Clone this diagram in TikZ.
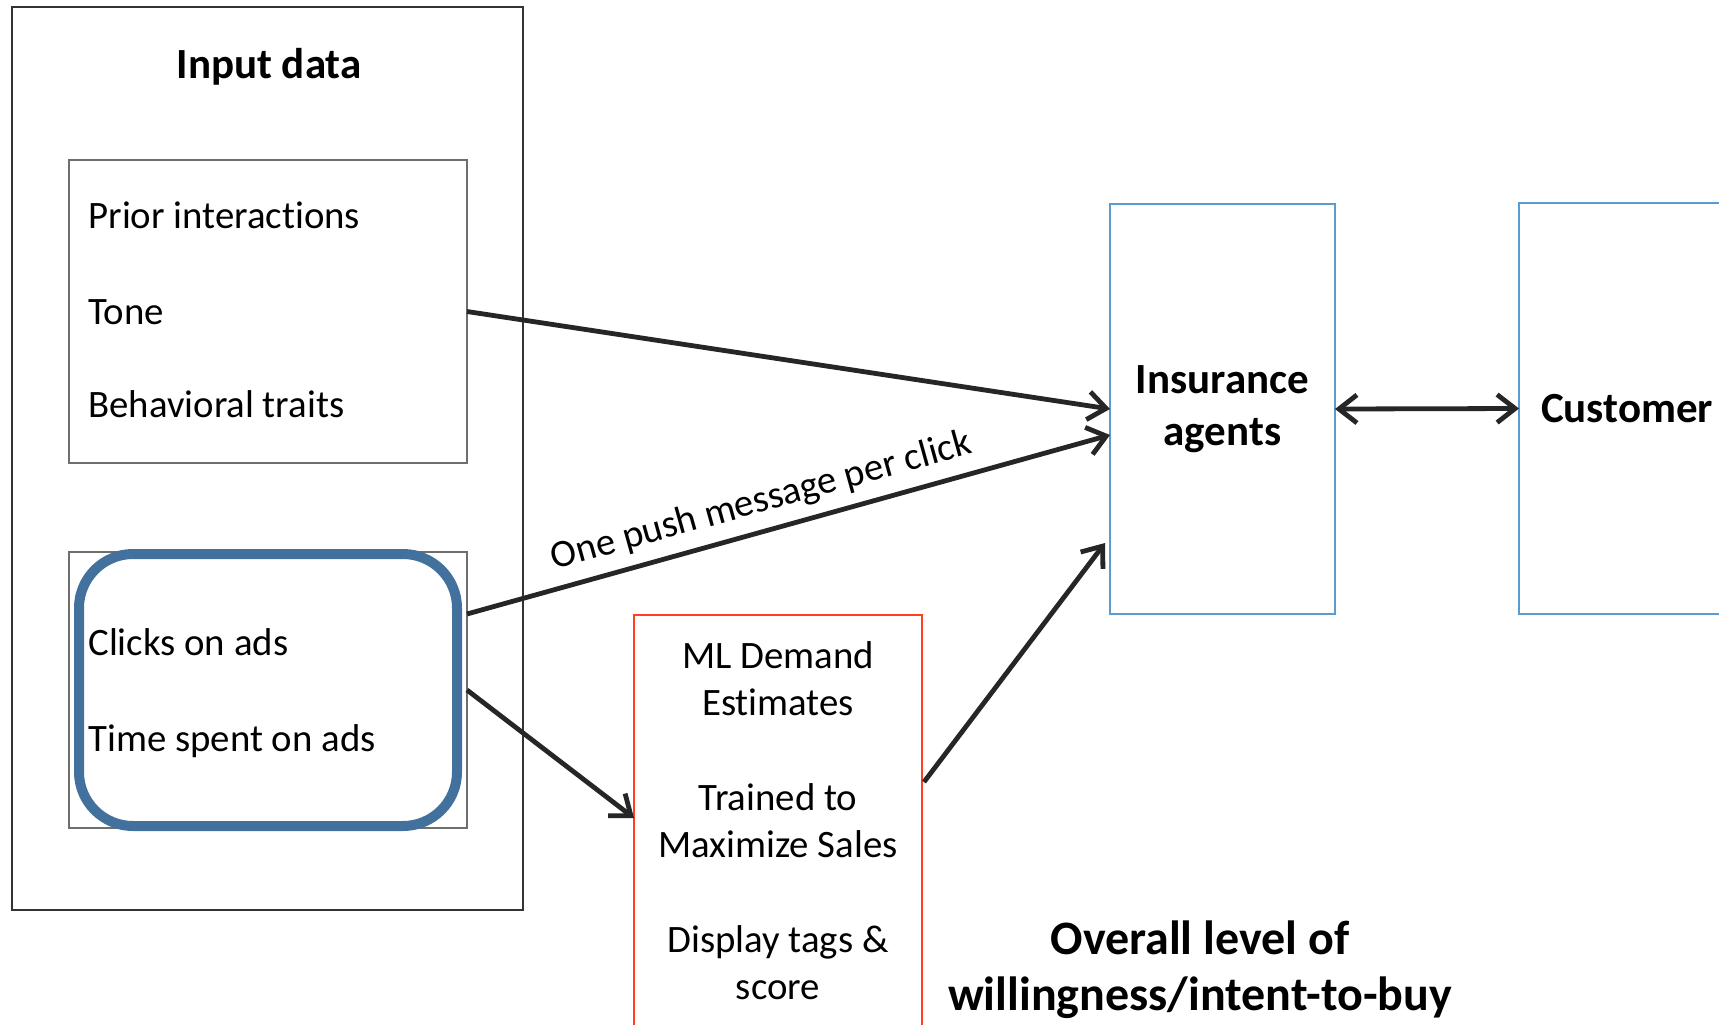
\documentclass[tikz,border=0pt]{standalone}
\usepackage{fontspec}
\setmainfont{Carlito}[RawFeature={-liga;-clig;-calt;-dlig}]
\usetikzlibrary{arrows.meta,calc}
\definecolor{outerc}{HTML}{333333}
\definecolor{innerc}{HTML}{6E6E6E}
\definecolor{lblue}{HTML}{5B9BD5}
\definecolor{steel}{HTML}{41719C}
\definecolor{redc}{HTML}{FF4122}
\definecolor{arrowc}{HTML}{262626}
\begin{document}
\begin{tikzpicture}[x=0.5pt,y=-0.5pt,
  boxst/.style={draw, inner sep=0pt, outer sep=0pt},
  txt/.style={font=\fontsize{19.4}{23.5}\selectfont, inner sep=0pt},
  ctxt/.style={txt, align=center},
  btxt/.style={font=\fontsize{21.5}{26}\selectfont\bfseries, inner sep=0pt, align=center},
  arr/.style={draw=arrowc, line width=2.4pt, -{Straight Barb[length=9pt,width=14pt]}},
  darr/.style={draw=arrowc, line width=2.4pt, {Straight Barb[length=9pt,width=14pt]}-{Straight Barb[length=9pt,width=14pt]}}]
\clip (0,0) rectangle (1719,1024);
\fill[white] (0,0) rectangle (1719,1024);

% outer input box
\node[boxst, draw=outerc, line width=1.4pt, minimum width=255.5pt, minimum height=451.5pt] (outer) at (267.5,458.5) {};
\node[btxt] (title) at (269,67) {Input data};

% inner box 1
\node[boxst, draw=innerc, line width=0.9pt, minimum width=199pt, minimum height=151.5pt] (box1) at (268,311.5) {};
\node[txt, anchor=base west] (t1) at (88,228) {Prior interactions};
\node[txt, anchor=base west] (t2) at (88,324) {Tone};
\node[txt, anchor=base west] (t3) at (88,417) {Behavioral traits};

% inner box 2
\node[boxst, draw=innerc, line width=0.9pt, minimum width=199pt, minimum height=138pt] (box2) at (268,690) {};
\node[boxst, draw=steel, line width=5pt, rounded corners=27pt, minimum width=189pt, minimum height=136pt] (hl) at (268,690) {};
\node[txt, anchor=base west] (t4) at (88,655) {Clicks on ads};
\node[txt, anchor=base west] (t5) at (88,751) {Time spent on ads};

% red ML box
\node[boxst, draw=redc, line width=1.4pt, minimum width=144pt, minimum height=212.5pt] (ml) at (778,827.5) {};
\node[ctxt] (m1) at (778,679) {ML Demand\\Estimates};
\node[ctxt] (m2) at (778,821) {Trained to\\Maximize Sales};
\node[ctxt] (m3) at (778,963) {Display tags \&\\score};

% agents and customer
\node[boxst, draw=lblue, line width=1.4pt, minimum width=112.5pt, minimum height=205pt, btxt] (agents) at (1222.5,409) {Insurance\\agents};
\node[boxst, draw=lblue, line width=1.4pt, minimum width=108pt, minimum height=205.5pt, btxt] (cust) at (1627,408.5) {Customer};

% bottom text
\node[font=\fontsize{24}{28}\selectfont\bfseries, inner sep=0pt, align=center] (overall) at (1200,970) {Overall level of\\willingness/intent-to-buy};

% connectors
\draw[arr] (box1.east) -- (agents.west);
\draw[arr] ($(box2.east)+(0,-76)$) -- node[txt, sloped, above=5pt, pos=0.47] (lbl) {One push message per click} ($(agents.west)+(0,26)$);
\draw[arr] (box2.east) -- ($(ml.west)+(0,-9.5)$);
\draw[arr] ($(ml.east)+(2,-45.5)$) -- ($(agents.west)+(-5,134)$);
\draw[darr] (agents.east) -- (cust.west);
\end{tikzpicture}
\end{document}
